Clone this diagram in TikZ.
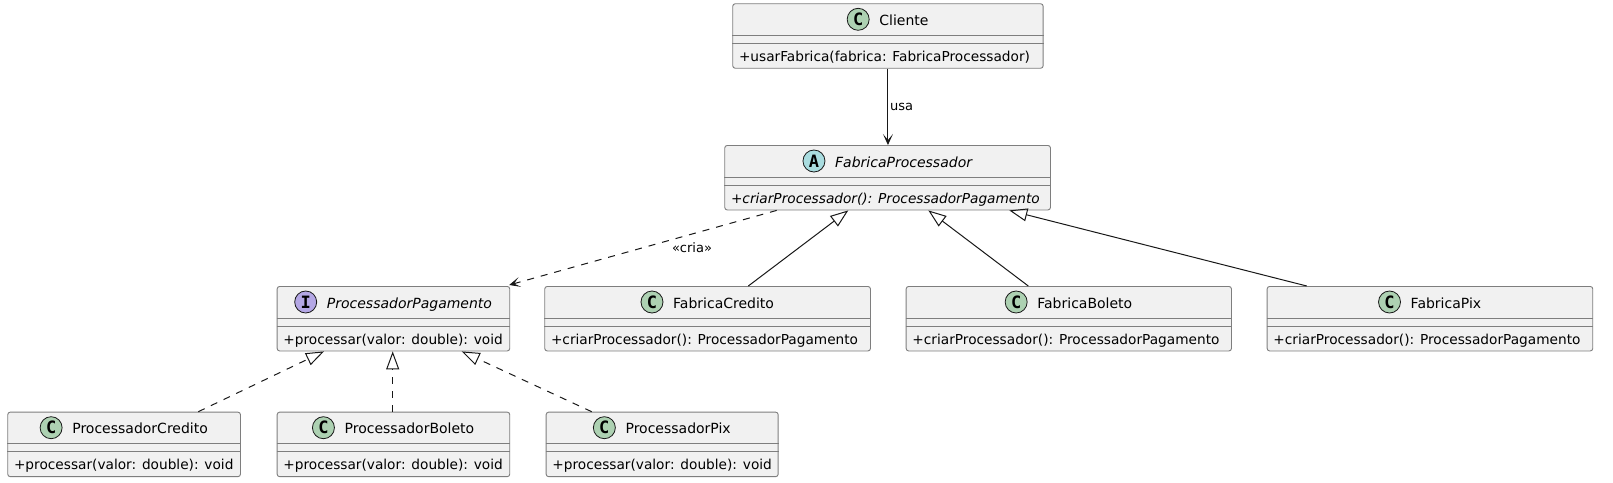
\documentclass[tikz,border=0pt]{standalone}
\usepackage{fontspec}
\setmainfont{DejaVu Sans}
\newfontfamily\iconfont{DejaVu Sans Mono}
\usetikzlibrary{arrows.meta,calc}
\definecolor{boxfill}{HTML}{F1F1F1}
\definecolor{boxline}{HTML}{181818}
\definecolor{boxedge}{HTML}{7E7E7E}
\definecolor{cgreen}{HTML}{ADD1B2}
\definecolor{acyan}{HTML}{A9DCDF}
\definecolor{ipurple}{HTML}{B4A7E5}
\tikzset{
  classbox/.style={draw=boxedge, line width=0.9pt, fill=boxfill, rounded corners=2.5pt,
    anchor=north west, inner sep=0pt, minimum height=64.5pt},
  titletext/.style={font=\fontsize{14}{16}\selectfont, inner sep=0pt, anchor=base},
  membertext/.style={font=\fontsize{13.7}{16}\selectfont, inner sep=0pt, anchor=base west},
  iconcirc/.style={circle, draw=boxline, line width=0.8pt, minimum size=22pt, inner sep=0pt,
    font=\iconfont\bfseries\fontsize{17}{17}\selectfont},
  divider/.style={draw=boxedge, line width=0.9pt},
  conn/.style={draw=boxline, line width=1pt},
  dashconn/.style={conn, dash pattern=on 7pt off 7pt},
  lbl/.style={font=\fontsize{13}{15}\selectfont, inner sep=0pt},
  usesarrow/.style={-{Stealth[length=11pt,width=10pt,inset=6pt]}},
  inherit/.style={-{Triangle[open,length=18pt,width=13pt]}}
}
\newcommand{\umlbox}[8]{%
  \node[classbox, minimum width=#4pt] (#1) at (#2,#3) {};
  \draw[divider] ([yshift=-32pt]#1.north west) -- ([yshift=-32pt]#1.north east);
  \draw[divider] ([yshift=-40pt]#1.north west) -- ([yshift=-40pt]#1.north east);
  \node[titletext] (#1-name) at ([xshift=16pt,yshift=-22pt]#1.north) {#7};
  \node[iconcirc, fill=#5] (#1-icon) at ($(#1-name.base west)+(-21pt,6pt)$) {#6};
  \node[membertext] (#1-member) at ([xshift=6.5pt,yshift=-58pt]#1.north west) {#8};
}
\begin{document}
\begin{tikzpicture}[x=1pt,y=-1pt]
\useasboundingbox (0,0) rectangle (1613,482);
\fill[white] (0,0) rectangle (1613,482);

\umlbox{cli}{732.3}{3.3}{310.4}{cgreen}{C}{Cliente}{+usarFabrica(fabrica: FabricaProcessador)}
\umlbox{fab}{724.3}{145}{325.7}{acyan}{A}{\itshape FabricaProcessador}{\itshape +criarProcessador(): ProcessadorPagamento}
\umlbox{pp}{276.7}{286}{232.6}{ipurple}{I}{\itshape ProcessadorPagamento}{+processar(valor: double): void}
\umlbox{fc}{544.3}{286}{325.7}{cgreen}{C}{FabricaCredito}{+criarProcessador(): ProcessadorPagamento}
\umlbox{fb}{905.7}{286}{325.3}{cgreen}{C}{FabricaBoleto}{+criarProcessador(): ProcessadorPagamento}
\umlbox{fpx}{1266.7}{286}{325.6}{cgreen}{C}{FabricaPix}{+criarProcessador(): ProcessadorPagamento}
\umlbox{pc}{7.3}{411.7}{232.7}{cgreen}{C}{ProcessadorCredito}{+processar(valor: double): void}
\umlbox{pb}{276.7}{411.7}{232.6}{cgreen}{C}{ProcessadorBoleto}{+processar(valor: double): void}
\umlbox{ppx}{545.7}{411.7}{232}{cgreen}{C}{ProcessadorPix}{+processar(valor: double): void}

% Cliente uses FabricaProcessador
\draw[conn, usesarrow] (cli.south) -- (cli.south |- fab.north);
\node[lbl, anchor=west, xshift=2pt] (usa) at ($(cli.south)!0.5!(cli.south |- fab.north)$) {usa};

% FabricaProcessador creates ProcessadorPagamento
\draw[dashconn, usesarrow] ([xshift=52.4pt]fab.south west) -- ([xshift=-1pt,yshift=1pt]pp.north east);
\node[lbl] (cria) at (692,248) {«cria»};

% generalizations
\draw[conn, inherit] ([xshift=204pt]fc.north west) -- ([xshift=124pt]fab.south west);
\draw[conn, inherit] ([xshift=122.6pt]fb.north west) -- ([xshift=204pt]fab.south west);
\draw[conn, inherit] ([xshift=40pt]fpx.north west) -- ([xshift=285pt]fab.south west);

% realizations
\draw[dashconn, inherit] ([xshift=191pt]pc.north west) -- ([xshift=47.3pt]pp.south west);
\draw[dashconn, inherit] ([xshift=116pt]pb.north west) -- ([xshift=116pt]pp.south west);
\draw[dashconn, inherit] ([xshift=46pt]ppx.north west) -- ([xshift=185pt]pp.south west);
\end{tikzpicture}
\end{document}
